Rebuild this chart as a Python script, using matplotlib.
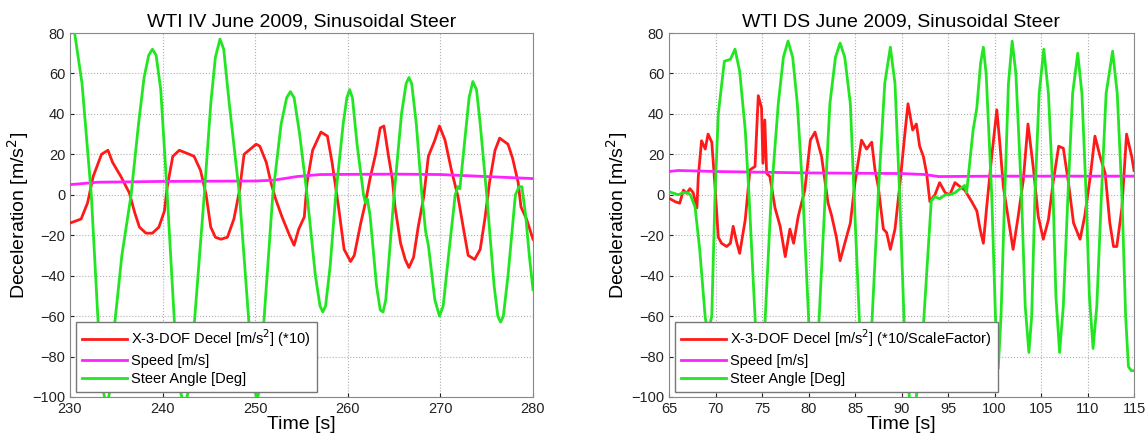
import matplotlib
matplotlib.use('Agg')
import matplotlib.pyplot as plt

plt.rcParams['font.family'] = ['Liberation Sans', 'DejaVu Sans']

# ---- left panel: WTI IV ----
iv_steer_t = [230, 230.5, 231.3, 232.3, 233.0, 233.5, 233.95, 234.4, 234.8, 235.6, 236.6, 237.4,
              238.0, 238.5, 238.9, 239.3, 239.8, 240.5, 241.3, 241.8, 242.35, 242.9, 243.4,
              244.5, 245.2, 245.7, 246.2, 246.6, 247.2, 248.3, 249.35, 249.9, 250.2, 250.5,
              250.9, 251.9, 252.8, 253.4, 253.8, 254.2, 254.8, 255.6, 256.5, 257.0, 257.3,
              257.6, 258.1, 258.7, 259.5, 259.9, 260.2, 260.5, 261.0, 261.7, 261.9, 262.1,
              262.4, 263.1, 263.5, 263.8, 264.1, 265.0, 265.8, 266.3, 266.6, 266.9, 267.4,
              268.0, 268.4, 268.7, 269.4, 269.9, 270.3, 271.0, 271.6, 271.9, 272.1, 272.7,
              273.1, 273.5, 273.9, 274.3, 275.0, 275.8, 276.2, 276.5, 276.8, 277.3, 278.1,
              278.5, 278.8, 279.2, 279.6, 280]
iv_steer = [90, 80, 55, 0, -60, -95, -105, -95, -65, -30, 0, 35,
            58, 69, 72, 69, 52, 0, -65, -95, -105, -95, -65,
            0, 45, 68, 77, 72, 45, 0, -65, -95, -102, -95,
            -65, 0, 35, 48, 51, 48, 30, 0, -40, -55, -58,
            -55, -35, 0, 35, 48, 52, 48, 25, 0, -4, -2,
            -10, -45, -57, -58, -52, 0, 40, 55, 58, 55, 35,
            0, -18, -25, -52, -60, -55, -25, 0, 4, 3, 30,
            48, 56, 52, 35, 0, -45, -60, -63, -60, -40, 0,
            4, 4, -10, -30, -47]
iv_decel_t = [230, 231.2, 231.9, 232.5, 233.4, 234.1, 234.6, 235.5, 236.4, 237.0, 237.5, 238.2,
              238.9, 239.6, 240.2, 240.5, 241.1, 241.8, 242.9, 243.4, 244.1, 244.7, 245.2,
              245.7, 246.3, 247.0, 247.7, 248.3, 248.8, 250.1, 250.5, 251.2, 251.7, 252.2,
              252.9, 253.7, 254.2, 254.7, 255.3, 255.6, 256.2, 257.1, 257.8, 258.3, 259.0,
              259.6, 260.3, 260.7, 261.4, 261.9, 262.4, 263.0, 263.5, 263.9, 264.4, 264.8,
              265.1, 265.7, 266.2, 266.6, 267.1, 267.6, 268.2, 268.7, 269.4, 269.9, 270.5,
              271.2, 271.9, 272.5, 273.0, 273.7, 274.3, 274.8, 275.3, 275.9, 276.4, 277.3,
              277.8, 278.4, 278.7, 279.3, 280]
iv_decel = [-14, -12, -4, 9, 20, 22, 16, 9, 1, -9, -16, -19,
            -19, -16, -8, 4, 19, 22, 20, 19, 12, 0, -16,
            -21, -22, -21, -12, 2, 20, 25, 24, 16, 6, -2,
            -11, -20, -25, -17, -11, 6, 22, 31, 29, 16, -6,
            -27, -33, -30, -14, -4, 8, 20, 33, 34, 19, 8,
            -6, -24, -32, -36, -31, -16, -1, 19, 27, 34, 27,
            12, -1, -17, -30, -32, -27, -12, 6, 22, 28, 25,
            18, 6, -6, -12, -22]
iv_speed_t = [230, 233, 240, 250, 252, 254.5, 257, 265, 270, 275, 280]
iv_speed = [5, 6.2, 6.6, 6.8, 7.2, 9, 10, 10.2, 10, 9, 8]

# ---- right panel: WTI DS ----
ds_steer_t = [65, 66, 66.5, 67.0, 67.3, 67.8, 68.3, 68.9, 69.2, 69.6, 69.95, 70.3, 70.95, 71.6,
              72.1, 72.6, 73.2, 73.6, 74.3, 74.8, 75.3, 76.0, 76.75, 77.3, 77.8, 78.3, 78.8,
              79.4, 80.05, 80.6, 81.1, 81.8, 82.3, 82.9, 83.4, 83.9, 84.5, 84.9, 85.5, 86.15,
              86.8, 87.5, 88.2, 88.8, 89.3, 89.8, 90.3, 91.0, 91.6, 92.35, 93.2, 93.6, 94.1,
              94.7, 95.2, 95.75, 96.3, 96.8, 97.0, 97.7, 98.1, 98.5, 98.8, 99.1, 99.7, 100.1,
              100.4, 100.7, 101.1, 101.5, 101.9, 102.3, 102.9, 103.3, 103.7, 104.0, 104.35,
              104.8, 105.3, 105.8, 106.3, 106.6, 107.0, 107.4, 107.9, 108.4, 108.95, 109.4,
              109.85, 110.2, 110.6, 111.0, 111.5, 112.0, 112.7, 113.2, 113.7, 114.1, 114.4,
              114.7, 115]
ds_steer = [1.5, 0, 1, 1, 0, -6, -27, -61, -68, -60, 0, 40, 66, 67,
            72, 61, 32, 0, -65, -85, -65, 0, 45, 68, 76, 68, 45,
            0, -65, -85, -65, 0, 45, 68, 75, 68, 45, 0, -65, -88,
            -65, 0, 55, 73, 55, 0, -65, -110, -100, -65, -3, -1, -2,
            0, 0, 1, 3, 4.6, 1, 32, 43, 65, 73, 60, 0, -60,
            -86, -60, 0, 55, 76, 60, 0, -55, -78, -60, 0,
            50, 72, 50, 0, -50, -78, -55, 0, 50, 70, 50,
            0, -50, -76, -55, 0, 50, 71, 50, 0, -60, -85,
            -87, -87]
ds_decel_t = [65, 65.65, 66.15, 66.55, 66.9, 67.25, 67.6, 68.0, 68.15, 68.5, 68.9, 69.2, 69.6,
              69.95, 70.3, 70.65, 71.2, 71.6, 71.9, 72.3, 72.6, 73.2, 73.7, 74.25, 74.6, 74.95,
              75.1, 75.3, 75.5, 75.85, 76.4, 76.95, 77.5, 78.0, 78.4, 78.9, 79.6, 80.2, 80.7,
              81.4, 82.1, 82.5, 83.0, 83.4, 83.9, 84.5, 85.0, 85.7, 86.25, 86.8, 87.15, 87.5,
              88.05, 88.4, 88.8, 89.3, 89.8, 90.4, 90.7, 91.2, 91.6, 91.95, 92.35, 92.7, 93.05,
              93.6, 94.1, 94.7, 95.2, 95.75, 96.3, 96.8, 97.55, 98.1, 98.45, 98.8, 99.15, 99.7,
              100.25, 100.6, 100.95, 101.5, 102.0, 102.55, 103.1, 103.6, 104.2, 104.7, 105.25,
              105.8, 106.3, 106.9, 107.4, 107.95, 108.5, 109.2, 109.7, 110.3, 110.8, 111.35,
              111.9, 112.4, 112.8, 113.15, 113.7, 114.2, 114.75, 115]
ds_decel = [-1.7, -3.4, -4.2, 2.3, 0.7, 3, 1, -6.5, 9, 26.7, 22.6, 30, 26,
            4, -21, -24, -25.6, -24, -15.6, -24, -29, -12.3, 12.3, 14, 49, 43,
            15.6, 37, 10.6, 9, -6.5, -15.6, -30.6, -17, -24, -10.6, 2.3, 27, 31,
            19, -4, -10.6, -21, -32.6, -24, -14, 6, 27, 22.6, 26, 12.3, 4,
            -17, -18.7, -27, -17, 4, 32, 45, 32, 35, 24, 19, 10.6, -3.4,
            0, 6, 1, 0, 6, 4, 2.3, -3.4, -8, -17, -24, -6.5, 19,
            42, 24, 4, -12.3, -27, -10.6, 7.5, 35, 12.3, -10.6, -22,
            -12.3, 6, 24, 23, 6, -14, -22, -10.6, 9, 29, 19,
            10.6, -14, -25.6, -25.6, -6.5, 30, 19, 12]
ds_speed_t = [65, 66, 70, 80, 90, 92.5, 94, 100, 115]
ds_speed = [11.5, 12, 11.5, 10.8, 10.5, 10, 9, 9.2, 9.2]

RED = '#ff1a1a'
MAG = '#ff22ff'
GRN = '#22e622'

fig = plt.figure(figsize=(11.48, 4.46), dpi=100)
ax1 = fig.add_axes([70 / 1148, 0.110, 463 / 1148, 0.816])
ax2 = fig.add_axes([669 / 1148, 0.110, 465 / 1148, 0.816])

panels = [
    (ax1, 'WTI IV June 2009, Sinusoidal Steer', (230, 280),
     iv_decel_t, iv_decel, iv_speed_t, iv_speed, iv_steer_t, iv_steer,
     'X-3-DOF Decel [m/s$^2$] (*10)'),
    (ax2, 'WTI DS June 2009, Sinusoidal Steer', (65, 115),
     ds_decel_t, ds_decel, ds_speed_t, ds_speed, ds_steer_t, ds_steer,
     'X-3-DOF Decel [m/s$^2$] (*10/ScaleFactor)'),
]

for ax, title, xl, dt, d, st, s, gt, g, lab in panels:
    ax.plot(dt, d, color=RED, lw=2, label=lab, zorder=3)
    ax.plot(st, s, color=MAG, lw=2, label='Speed [m/s]', zorder=3)
    ax.plot(gt, g, color=GRN, lw=2, label='Steer Angle [Deg]', zorder=3)
    ax.set_xlim(xl)
    ax.set_ylim(-100, 80)
    ax.set_yticks(range(-100, 81, 20))
    ax.grid(True, linestyle=':', color='#b0b0b0', lw=0.8)
    ax.tick_params(labelsize=10.5, direction='in', length=3, colors='#222222')
    for sp in ax.spines.values():
        sp.set_color('#888888')
    ax.set_title(title, fontsize=14, pad=5)
    ax.set_xlabel('Time [s]', fontsize=14, labelpad=0)
    ax.set_ylabel('Deceleration [m/s$^2$]', fontsize=14, labelpad=1)
    leg = ax.legend(loc='lower left', bbox_to_anchor=(0.013, 0.014), borderaxespad=0,
                    fontsize=10.5, frameon=True, fancybox=False, framealpha=1,
                    edgecolor='#777777', handlelength=3.1, borderpad=0.4,
                    labelspacing=0.3, handletextpad=0.3)
    leg.get_frame().set_linewidth(1)
    leg.set_zorder(5)

ax2.set_xticks(range(65, 116, 5))

fig.savefig('out.png', dpi=100)
